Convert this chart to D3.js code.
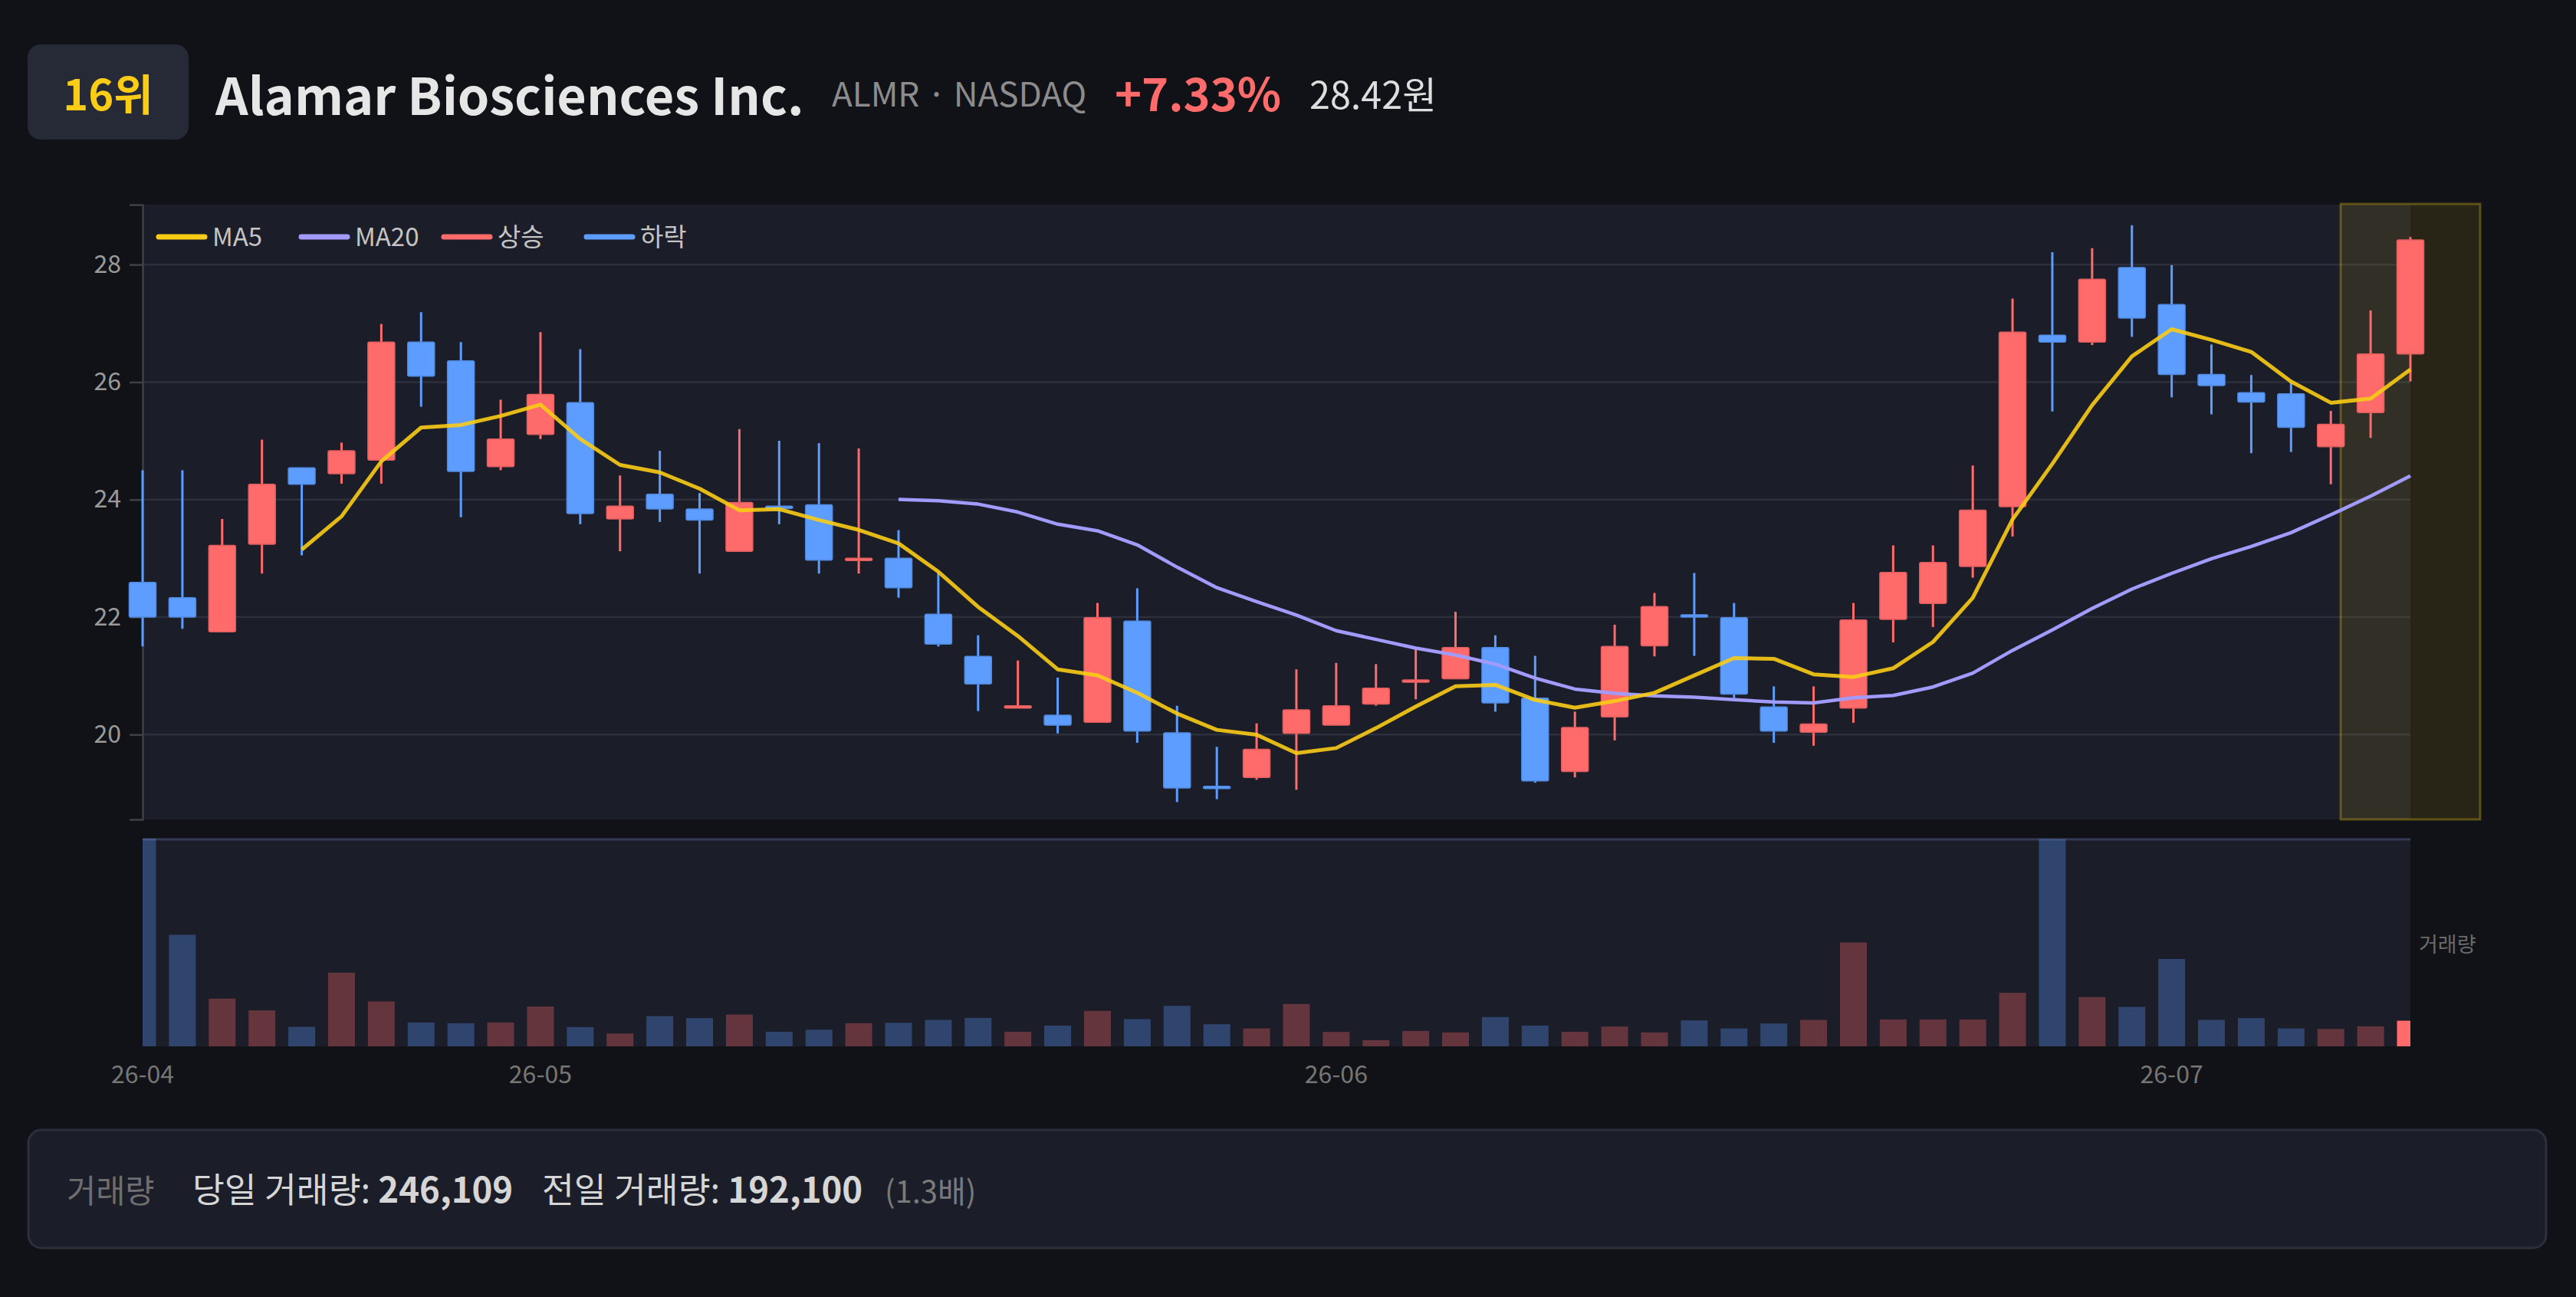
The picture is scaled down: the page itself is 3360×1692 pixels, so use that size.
<!DOCTYPE html>
<html><head><meta charset="utf-8">
<script src="https://cdn.jsdelivr.net/npm/d3@7"></script>
<style>
html,body{margin:0;padding:0;background:#111217;}
svg{display:block;font-family:"Noto Sans CJK KR","Noto Sans",sans-serif;}
</style></head><body>
<svg id="chart" width="3360" height="1692"></svg>
<script>
// ---------------- DATA ----------------
const dates = [
  "2026-04-17","2026-04-20","2026-04-21","2026-04-22","2026-04-23","2026-04-24","2026-04-27","2026-04-28","2026-04-29","2026-04-30",
  "2026-05-01","2026-05-04","2026-05-05","2026-05-06","2026-05-07","2026-05-08","2026-05-11","2026-05-12","2026-05-13","2026-05-14",
  "2026-05-15","2026-05-18","2026-05-19","2026-05-20","2026-05-21","2026-05-22","2026-05-26","2026-05-27","2026-05-28","2026-05-29",
  "2026-06-01","2026-06-02","2026-06-03","2026-06-04","2026-06-05","2026-06-08","2026-06-09","2026-06-10","2026-06-11","2026-06-12",
  "2026-06-15","2026-06-16","2026-06-17","2026-06-18","2026-06-22","2026-06-23","2026-06-24","2026-06-25","2026-06-26","2026-06-29",
  "2026-06-30","2026-07-01","2026-07-02","2026-07-06","2026-07-07","2026-07-08","2026-07-09","2026-07-10"
];
const openP = [22.59,22.33,21.75,23.24,24.54,24.44,24.67,26.68,26.36,24.56,
  25.11,25.65,23.67,24.09,23.84,23.12,23.89,23.91,22.97,23.00,
  22.05,21.33,20.47,20.33,20.21,21.93,20.03,19.12,19.27,20.02,
  20.16,20.52,20.91,20.95,21.48,20.62,19.37,20.30,21.51,22.04,
  21.99,20.47,20.04,20.45,21.96,22.23,22.86,23.88,26.80,26.68,
  27.95,27.32,26.13,25.82,25.80,24.90,25.48,26.48];
const highP = [24.50,24.50,23.67,25.02,24.54,24.97,26.99,27.19,26.68,25.70,
  26.85,26.56,24.41,24.83,24.11,25.20,25.00,24.96,24.87,23.48,
  22.76,21.69,21.26,20.97,22.24,22.49,20.49,19.79,20.19,21.11,
  21.22,21.20,21.48,22.09,21.69,21.34,20.39,21.87,22.41,22.75,
  22.24,20.82,20.82,22.24,23.22,23.22,24.58,27.42,28.21,28.28,
  28.67,27.99,26.64,26.12,25.99,25.51,27.22,28.47];
const lowP = [21.50,21.80,21.75,22.74,23.05,24.27,24.27,25.58,23.70,24.50,
  25.03,23.58,23.12,23.62,22.74,23.12,23.58,22.74,22.74,22.33,
  21.50,20.40,20.45,20.02,20.21,19.86,18.85,18.90,19.23,19.06,
  20.16,20.49,20.60,20.95,20.39,19.18,19.27,19.90,21.33,21.34,
  20.62,19.86,19.81,20.20,21.57,21.83,22.67,23.37,25.50,26.63,
  26.77,25.74,25.45,24.79,24.81,24.26,25.05,26.01];
const closeP = [22.00,22.00,23.22,24.26,24.26,24.83,26.68,26.10,24.48,25.03,
  25.79,23.76,23.89,23.84,23.65,23.95,23.85,22.97,23.00,22.50,
  21.54,20.86,20.49,20.16,21.99,20.06,19.09,19.10,19.75,20.42,
  20.49,20.79,20.93,21.48,20.54,19.21,20.12,21.50,22.18,22.02,
  20.69,20.06,20.18,21.95,22.76,22.93,23.82,26.85,26.68,27.75,
  27.09,26.13,25.94,25.66,25.23,25.28,26.48,28.42];
const volumes = [1994000,1071000,458000,345000,187000,707000,431000,229000,222000,229000,
  382000,185000,123000,290000,271000,305000,140000,160000,222000,226000,
  254000,273000,140000,199000,340000,261000,389000,212000,172000,406000,
  138000,59000,148000,133000,281000,199000,140000,190000,133000,249000,
  172000,219000,254000,997000,258000,258000,258000,514000,1990000,473000,
  379000,839000,254000,271000,172000,167000,192100,246109];
const priceTicks = [20,22,24,26,28];
const priceDomain = [18.555, 29.02];
const legendLabels = ["MA5","MA20","상승","하락"];
const rankLabel = "16위";
const companyName = "Alamar Biosciences Inc.";
const tickerLabel = "ALMR · NASDAQ";
const currencyUnit = "원";

// ---------------- STYLE ----------------
const C = {
  bg:"#111217", panel:"#1b1d29", grid:"#2c2f3c", up:"#ff6b6b", down:"#5c9dff",
  ma5:"#facc15", ma20:"#a29bfe", axis:"#3e4049", tick:"#9a9a9a", xtick:"#767676"
};
const L = 186, R = 3144;
const pTop = 267, pBot = 1069, vTop = 1094, vBot = 1365;

const svg = d3.select("#chart");
const n = dates.length;
const idx = d3.range(n);
const x = d3.scalePoint().domain(idx).range([L, R]);
const y = d3.scaleLinear().domain(priceDomain).range([pBot, pTop]);
const yv = d3.scaleLinear().domain([0, d3.max(volumes)]).range([vBot, vTop]);
const bodyW = 35;

const defs = svg.append("defs");
defs.append("clipPath").attr("id","vclip").append("rect")
  .attr("x",L).attr("y",vTop-2).attr("width",R-L).attr("height",vBot-vTop+2);

// ---------------- HEADER ----------------
svg.append("rect").attr("x",36).attr("y",58).attr("width",210).attr("height",124)
  .attr("rx",17).attr("fill","#262a36");
svg.append("text").attr("x",141).attr("y",144).attr("text-anchor","middle")
  .attr("font-size",56).attr("font-weight",700).attr("fill","#facc15").text(rankLabel);
svg.append("text").attr("x",281).attr("y",150).attr("font-size",66.5).attr("font-weight",700)
  .attr("fill","#e6e6e6").text(companyName);
svg.append("text").attr("x",1085).attr("y",139).attr("font-size",44)
  .attr("fill","#8c8c8c").text(tickerLabel);
const last = closeP[n-1], prev = closeP[n-2];
const pct = (last/prev - 1)*100;
svg.append("text").attr("x",1454).attr("y",145).attr("font-size",59.5).attr("font-weight",700)
  .attr("fill",C.up).text((pct>=0?"+":"")+pct.toFixed(2)+"%");
svg.append("text").attr("x",1708).attr("y",142).attr("font-size",48.5)
  .attr("fill","#dedede").text(last.toFixed(2)+currencyUnit);

// ---------------- PRICE PANEL ----------------
svg.append("rect").attr("x",L).attr("y",pTop).attr("width",R-L).attr("height",pBot-pTop).attr("fill",C.panel);

svg.append("g").selectAll("line").data(priceTicks).join("line")
  .attr("x1",L).attr("x2",R).attr("y1",d=>y(d)).attr("y2",d=>y(d))
  .attr("stroke",C.grid).attr("stroke-width",2.5);

const yAxis = svg.append("g").attr("transform",`translate(${L},0)`)
  .call(d3.axisLeft(y).tickValues(priceTicks).tickSize(17).tickSizeOuter(17).tickPadding(11).tickFormat(d3.format("d")));
yAxis.select(".domain").attr("stroke",C.axis).attr("stroke-width",2.5);
yAxis.selectAll(".tick line").attr("stroke",C.axis).attr("stroke-width",2.5);
yAxis.selectAll("text").attr("fill",C.tick).attr("font-size",32)
  .attr("font-family",'"Noto Sans CJK KR","Noto Sans",sans-serif');

// highlight of last session
svg.append("rect").attr("x",x(n-1)-91).attr("y",pTop-1).attr("width",182).attr("height",pBot-pTop+1)
  .attr("fill","rgba(250,204,21,0.1)").attr("stroke","rgba(250,204,21,0.3)").attr("stroke-width",3);

// candles
const isUp = i => closeP[i] >= openP[i];
const cg = svg.append("g");
cg.selectAll("line").data(idx).join("line")
  .attr("x1",i=>x(i)).attr("x2",i=>x(i)).attr("y1",i=>y(highP[i])).attr("y2",i=>y(lowP[i]))
  .attr("stroke",i=>isUp(i)?C.up:C.down).attr("stroke-width",3);
cg.selectAll("rect").data(idx).join("rect")
  .attr("x",i=>x(i)-bodyW/2).attr("width",bodyW)
  .attr("y",i=>y(Math.max(openP[i],closeP[i])))
  .attr("height",i=>Math.max(3, Math.abs(y(openP[i])-y(closeP[i]))))
  .attr("rx",2)
  .attr("fill",i=>isUp(i)?C.up:C.down)
  .attr("stroke",i=>d3.color(isUp(i)?C.up:C.down).darker(0.35))
  .attr("stroke-width",1.5);

// moving averages
function ma(k){ return idx.map(i => i < k-1 ? null : d3.mean(closeP.slice(i-k+1,i+1))); }
const ma5 = ma(5), ma20 = ma(20);
const line = d3.line().defined(d=>d[1]!=null).x(d=>x(d[0])).y(d=>y(d[1]));
svg.append("path").datum(idx.map(i=>[i,ma20[i]])).attr("d",line)
  .attr("fill","none").attr("stroke",C.ma20).attr("stroke-width",4.5).attr("stroke-linejoin","round");
svg.append("path").datum(idx.map(i=>[i,ma5[i]])).attr("d",line)
  .attr("fill","none").attr("stroke",C.ma5).attr("stroke-opacity",0.9).attr("stroke-width",5).attr("stroke-linejoin","round");

// legend
const lgColors = [C.ma5, C.ma20, C.up, C.down];
const lg = svg.append("g").selectAll("g").data(legendLabels).join("g")
  .attr("transform",(d,i)=>`translate(${207 + i*186},309)`);
lg.append("line").attr("x1",0).attr("x2",60).attr("y1",0).attr("y2",0)
  .attr("stroke",(d,i)=>lgColors[i]).attr("stroke-width",7).attr("stroke-linecap","round");
lg.append("text").attr("x",70).attr("y",12).attr("font-size",33).attr("fill","#c4c4c4").text(d=>d);

// ---------------- VOLUME PANEL ----------------
svg.append("rect").attr("x",L).attr("y",vTop).attr("width",R-L).attr("height",vBot-vTop).attr("fill",C.panel);
svg.append("line").attr("x1",L).attr("x2",R).attr("y1",vTop+1).attr("y2",vTop+1)
  .attr("stroke","#363a52").attr("stroke-width",3);
svg.append("g").attr("clip-path","url(#vclip)").selectAll("rect").data(idx).join("rect")
  .attr("x",i=>x(i)-bodyW/2).attr("width",bodyW)
  .attr("y",i=>yv(volumes[i])).attr("height",i=>vBot-yv(volumes[i]))
  .attr("fill",i=>isUp(i)?C.up:C.down)
  .attr("fill-opacity",i=>i===n-1?1:0.32);
svg.append("text").attr("x",3155).attr("y",1242).attr("font-size",27).attr("fill","#6a6a6a").text("거래량");

// x tick labels at month starts
const monthStarts = idx.filter(i => i===0 || dates[i].slice(0,7)!==dates[i-1].slice(0,7));
svg.append("g").selectAll("text").data(monthStarts).join("text")
  .attr("x",i=>x(i)).attr("y",1413).attr("text-anchor","middle")
  .attr("font-size",32).attr("fill",C.xtick)
  .text(i=>dates[i].slice(2,7));

// ---------------- FOOTER ----------------
svg.append("rect").attr("x",37).attr("y",1474).attr("width",3284).attr("height",154).attr("rx",17)
  .attr("fill","#1b1d29").attr("stroke","#2c2f3d").attr("stroke-width",3);
const fmt = d3.format(",");
const vToday = volumes[n-1], vPrev = volumes[n-2];
svg.append("text").attr("x",87).attr("y",1569).attr("font-size",41.5).attr("fill","#6e6e6e").text("거래량");
const t1 = svg.append("text").attr("x",251).attr("y",1569).attr("font-size",45.5).attr("fill","#d6d6d6");
t1.append("tspan").text("당일 거래량: ");
t1.append("tspan").attr("font-weight",700).text(fmt(vToday));
const t2 = svg.append("text").attr("x",707).attr("y",1569).attr("font-size",45.5).attr("fill","#d6d6d6");
t2.append("tspan").text("전일 거래량: ");
t2.append("tspan").attr("font-weight",700).text(fmt(vPrev));
svg.append("text").attr("x",1154).attr("y",1569).attr("font-size",40).attr("fill","#7a7a7a")
  .text("(" + (vToday/vPrev).toFixed(1) + "배)");
</script>
</body></html>
